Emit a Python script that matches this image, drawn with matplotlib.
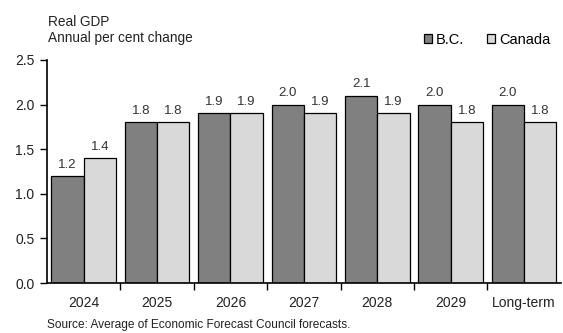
import matplotlib
matplotlib.use("Agg")
import matplotlib.pyplot as plt
import numpy as np

plt.rcParams['font.family'] = ['Liberation Sans', 'DejaVu Sans']

categories = ["2024", "2025", "2026", "2027", "2028", "2029", "Long-term"]
bc = [1.2, 1.8, 1.9, 2.0, 2.1, 2.0, 2.0]
canada = [1.4, 1.8, 1.9, 1.9, 1.9, 1.8, 1.8]

fig = plt.figure(figsize=(5.63, 3.33), dpi=100)
ax = fig.add_axes([0.0835, 0.150, 0.9125, 0.670])

x = np.arange(len(categories))
w = 0.44
b1 = ax.bar(x - w / 2, bc, w, color="#808080", edgecolor="black", linewidth=0.9, label="B.C.")
b2 = ax.bar(x + w / 2, canada, w, color="#d9d9d9", edgecolor="black", linewidth=0.9, label="Canada")

for bars, vals in ((b1, bc), (b2, canada)):
    for r, v in zip(bars, vals):
        ax.text(r.get_x() + r.get_width() / 2, v + 0.06, f"{v:.1f}",
                ha="center", va="bottom", fontsize=9.5, color="#333333")

ax.set_xlim(-0.5, len(categories) - 0.5)
ax.set_ylim(0, 2.5)
ticks = np.arange(0, 2.51, 0.5)
ax.set_yticks(ticks)
ax.set_yticklabels([f"{t:.1f}" for t in ticks], fontsize=10, color="#222222")
ax.set_xticks(x)
ax.set_xticklabels(categories, fontsize=10, color="#222222")
ax.tick_params(axis="x", length=0, pad=9)
ax.set_xticks(np.arange(0.5, len(categories) - 0.5, 1), minor=True)
ax.tick_params(axis="x", which="minor", length=5, width=1, direction="out")
ax.tick_params(axis="y", length=5, width=1, direction="out", pad=4)
for s in ("top", "right"):
    ax.spines[s].set_visible(False)
ax.spines["left"].set_linewidth(1.2)
ax.spines["bottom"].set_linewidth(1.2)

fig.text(0.085, 0.934, "Real GDP", fontsize=9.8, color="#222222", va="center")
fig.text(0.085, 0.886, "Annual per cent change", fontsize=9.8, color="#222222", va="center")
fig.text(0.083, 0.024, "Source: Average of Economic Forecast Council forecasts.",
         fontsize=8.6, color="#222222", va="center")

leg = fig.legend(handles=[b1, b2], loc="center right", bbox_to_anchor=(0.99, 0.88),
                 ncol=2, frameon=False, fontsize=10.5, handlelength=0.55, handleheight=0.55,
                 handletextpad=0.25, columnspacing=1.6, borderpad=0)

fig.savefig("out.png", dpi=100)
